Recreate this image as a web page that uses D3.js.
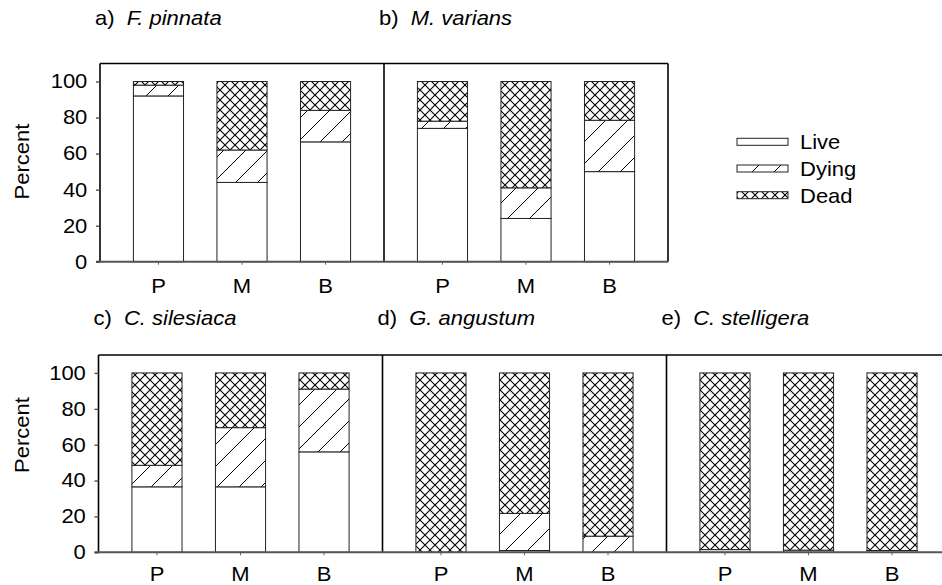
<!DOCTYPE html>
<html><head><meta charset="utf-8">
<script src="https://cdn.jsdelivr.net/npm/d3@7"></script>
<style>
body{margin:0;background:#fff}
svg{display:block}
text{font-family:"Liberation Sans",Arial,Helvetica,sans-serif;fill:#000}
</style>
</head><body>
<svg id="chart" width="942" height="585"></svg>
<script>
// ---------------- data ----------------
const categories = ["P", "M", "B"];
const panelLetters = ["a)", "b)", "c)", "d)", "e)"];
const species = ["F. pinnata", "M. varians", "C. silesiaca", "G. angustum", "C. stelligera"];
const seriesNames = ["Live", "Dying", "Dead"];
// percent per panel, per category (P, M, B)
const live  = [[92, 44, 66.5], [74, 24, 50],   [36.5, 36.5, 56], [0, 1, 0],      [1.5, 1.2, 1]];
const dying = [[6, 18, 17.5],  [4, 17, 28.5],  [12, 33, 35],     [0, 20.7, 9],   [0, 0, 0]];
const dead  = [[2, 38, 16],    [22, 59, 21.5], [51.5, 30.5, 9],  [100, 78.3, 91],[98.5, 98.8, 99]];
const yTicks = [0, 20, 40, 60, 80, 100];
const yDomain = [0, 110];

// ---------------- layout ----------------
const FS = 20, SX = 1.1;
const panelW = 284;
const rows = [
  { y0: 261.7, yTop: 63.5, left: 100,  panels: [0, 1],    labelY: 161.5, titleY: 25,  catPad: 14 },
  { y0: 552.3, yTop: 355,  left: 98.5, panels: [2, 3, 4], labelY: 435,   titleY: 325, catPad: 11.5 }
];

const svg = d3.select("#chart");
const defs = svg.append("defs");

// patterns
const hatch = defs.append("pattern").attr("id", "dying")
  .attr("patternUnits", "userSpaceOnUse").attr("width", 22).attr("height", 22);
hatch.append("rect").attr("width", 22).attr("height", 22).attr("fill", "#fff");
hatch.append("path").attr("d", "M0,22 L22,0 M-3,3 L3,-3 M19,25 L25,19")
  .attr("stroke", "#000").attr("stroke-width", 1);

const cross = defs.append("pattern").attr("id", "dead")
  .attr("patternUnits", "userSpaceOnUse").attr("width", 10).attr("height", 10);
cross.append("rect").attr("width", 10).attr("height", 10).attr("fill", "#fff");
cross.append("path").attr("d", "M0,0 L10,10 M10,0 L0,10")
  .attr("stroke", "#000").attr("stroke-width", 1.1);

const fills = { Live: "#fff", Dying: "url(#dying)", Dead: "url(#dead)" };

const stack = d3.stack().keys(seriesNames);

rows.forEach(row => {
  const y = d3.scaleLinear().domain(yDomain).range([row.y0, row.yTop]);
  const n = row.panels.length;
  const g = svg.append("g");

  row.panels.forEach((p, j) => {
    const x0 = row.left + j * panelW;
    const x = d3.scaleBand().domain(categories).range([x0, x0 + panelW])
      .paddingInner(0.4).paddingOuter(0.4);
    const table = categories.map((c, i) => ({
      cat: c, Live: live[p][i], Dying: dying[p][i], Dead: dead[p][i]
    }));
    const layers = stack(table);
    layers.forEach(layer => {
      g.append("g").selectAll("rect").data(layer).join("rect")
        .attr("x", d => x(d.data.cat))
        .attr("width", x.bandwidth())
        .attr("y", d => y(d[1]))
        .attr("height", d => Math.max(0, y(d[0]) - y(d[1])))
        .attr("fill", fills[layer.key])
        .attr("stroke", "#222").attr("stroke-width", 1);
    });

    // x axis categories
    const ax = g.append("g").attr("transform", `translate(0,${row.y0})`)
      .call(d3.axisBottom(x).tickSize(3).tickPadding(row.catPad));
    ax.select(".domain").remove();
    ax.selectAll(".tick line").attr("stroke", "#666");
    ax.selectAll(".tick text").attr("font-size", FS).attr("font-family", null)
      .attr("transform", `scale(${SX},1)`);

    // title
    const t = svg.append("text")
      .attr("transform", `translate(${x0 - 5},${row.titleY}) scale(${SX},1)`)
      .attr("font-size", FS);
    t.append("tspan").text(panelLetters[p]);
    t.append("tspan").attr("dx", 11).attr("font-style", "italic").text(species[p]);
  });

  // frame
  const xr = row.left + n * panelW;
  g.append("line").attr("x1", row.left).attr("x2", xr).attr("y1", row.yTop).attr("y2", row.yTop)
    .attr("stroke", "#000").attr("stroke-width", 1.3);
  d3.range(n + 1).forEach(k => {
    const xx = row.left + k * panelW;
    g.append("line").attr("x1", xx).attr("x2", xx).attr("y1", row.yTop).attr("y2", row.y0)
      .attr("stroke", "#000").attr("stroke-width", 1.6);
  });
  g.append("line").attr("x1", row.left - 4).attr("x2", xr).attr("y1", row.y0).attr("y2", row.y0)
    .attr("stroke", "#555").attr("stroke-width", 2);

  // y axis
  const ay = g.append("g").attr("transform", `translate(${row.left},0)`)
    .call(d3.axisLeft(y).tickValues(yTicks).tickSize(4).tickPadding(7.5));
  ay.select(".domain").remove();
  ay.selectAll(".tick line").attr("stroke", "#444").attr("stroke-width", 1.3);
  ay.selectAll(".tick text").attr("font-size", FS).attr("font-family", null)
    .attr("transform", `scale(${SX},1)`);

  svg.append("text")
    .attr("transform", `translate(28.5,${row.labelY}) rotate(-90) scale(${SX},1)`)
    .attr("text-anchor", "middle").attr("font-size", FS)
    .text("Percent");
});

// legend
const legY = [138.3, 165, 191.7];
const leg = svg.append("g");
seriesNames.forEach((s, i) => {
  leg.append("rect").attr("x", 737).attr("y", legY[i]).attr("width", 51).attr("height", 7)
    .attr("fill", fills[s]).attr("stroke", "#222").attr("stroke-width", 1);
  leg.append("text")
    .attr("transform", `translate(800,${legY[i] + 11}) scale(${SX},1)`)
    .attr("font-size", FS).text(s);
});
</script>
</body></html>
